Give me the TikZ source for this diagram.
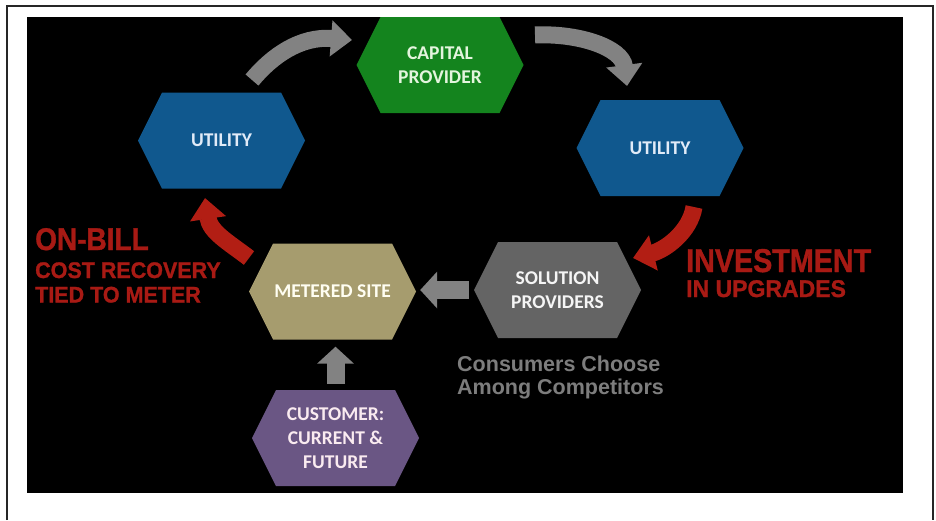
\documentclass[tikz,border=0pt]{standalone}
\usepackage{fontspec}
\setmainfont{Liberation Sans}
\newfontfamily\calib{Carlito}
\newfontfamily\heavyfont[FakeBold=1.2]{Liberation Sans Bold}
\usetikzlibrary{arrows.meta}
\definecolor{utilblue}{RGB}{16,88,142}
\definecolor{capgreen}{RGB}{20,132,30}
\definecolor{solgray}{RGB}{100,100,100}
\definecolor{sitetan}{RGB}{166,156,110}
\definecolor{custpurple}{RGB}{106,86,132}
\definecolor{arrgray}{RGB}{130,130,130}
\definecolor{arrred}{RGB}{178,30,20}
\definecolor{lblred}{RGB}{168,26,20}
\definecolor{lblgray}{RGB}{125,125,125}
\definecolor{utiltext}{RGB}{225,235,248}
\definecolor{captext}{RGB}{228,245,222}
\tikzset{
  hexa/.style={minimum width=167pt, minimum height=96pt, inner sep=0pt, align=center,
    font={\calib\bfseries\fontsize{19.5}{24}\selectfont},
    path picture={\fill[#1] (path picture bounding box.west)
      -- ([xshift=24pt]path picture bounding box.north west)
      -- ([xshift=-24pt]path picture bounding box.north east)
      -- (path picture bounding box.east)
      -- ([xshift=-24pt]path picture bounding box.south east)
      -- ([xshift=24pt]path picture bounding box.south west) -- cycle;}},
  curvearrow/.style={line width=17pt, -{Triangle[width=35pt,length=21pt]}},
  straightarrow/.style={line width=18pt, arrgray, -{Triangle[width=36pt,length=17pt]}},
  redlbl/.style={text=lblred, inner sep=0pt, anchor=base west},
  graylbl/.style={text=lblgray, inner sep=0pt, anchor=base west,
    font={\bfseries\fontsize{21.5}{24}\selectfont}}
}
\begin{document}
\begin{tikzpicture}[x=1pt,y=-1pt]
\useasboundingbox (0,0) rectangle (936,520);
\fill[white] (0,0) rectangle (936,520);
\fill[black] (27,17) rectangle (903,493);
\draw[line width=2pt, black!85] (7,520) -- (7,6) -- (933,6) -- (933,520);

% hexagons
\node[hexa=utilblue, text=utiltext] (lu) at (221.5,140.5) {UTILITY};
\node[hexa=capgreen, text=captext] (cp) at (440,65) {CAPITAL\\PROVIDER};
\node[hexa=utilblue, text=utiltext] (ru) at (660,148) {UTILITY};
\node[hexa=solgray, text=white!92!gray] (sp) at (557.5,290) {SOLUTION\\PROVIDERS};
\node[hexa=sitetan, text=white!95!yellow] (ms) at (332.5,291.5) {METERED SITE};
\node[hexa=custpurple, text=white!92!purple] (cu) at (335.5,438) {CUSTOMER:\\CURRENT \&\\FUTURE};

% curved arrows
\coordinate (a1s) at (252,80);
\coordinate (a1e) at (352,40);
\draw[curvearrow, arrgray] (a1s) .. controls (272,56) and (300,36) .. (a1e);
\coordinate (a2s) at (535,35);
\coordinate (a2e) at (627,86);
\draw[curvearrow, arrgray] (a2s) .. controls (580,33) and (622,48) .. (a2e);
\coordinate (a3s) at (694,207);
\coordinate (a3e) at (633,258);
\draw[curvearrow, arrred] (a3s) .. controls (690,232) and (665,250) .. (a3e);
\coordinate (a4s) at (249,258);
\coordinate (a4e) at (205,198);
\draw[curvearrow, arrred] (a4s) .. controls (228,242) and (210,232) .. (a4e);

% straight arrows
\draw[straightarrow] ([xshift=-5pt]sp.west) -- ([xshift=4pt]ms.east |- sp.west);
\draw[straightarrow] ([yshift=6pt]cu.north) -- ([yshift=-7pt]cu.north |- ms.south);

% labels
\node[redlbl, font={\heavyfont\fontsize{28}{28}\selectfont}] (l1) at (35,250) {\scalebox{1}[1.12]{ON-BILL}};
\node[redlbl, font={\heavyfont\fontsize{21.5}{24}\selectfont}] (l2) at (35,278) {\scalebox{1}[1.05]{COST RECOVERY}};
\node[redlbl, font={\heavyfont\fontsize{21.5}{24}\selectfont}] (l3) at (35,302.5) {\scalebox{1}[1.05]{TIED TO METER}};
\node[redlbl, font={\heavyfont\fontsize{28.7}{30}\selectfont}] (l4) at (686,272) {\scalebox{1}[1.15]{INVESTMENT}};
\node[redlbl, font={\heavyfont\fontsize{23}{26}\selectfont}] (l5) at (686,297) {\scalebox{1}[1.05]{IN UPGRADES}};
\node[graylbl] (l6) at (457,371) {Consumers Choose};
\node[graylbl] (l7) at (457,394) {Among Competitors};
\end{tikzpicture}
\end{document}
